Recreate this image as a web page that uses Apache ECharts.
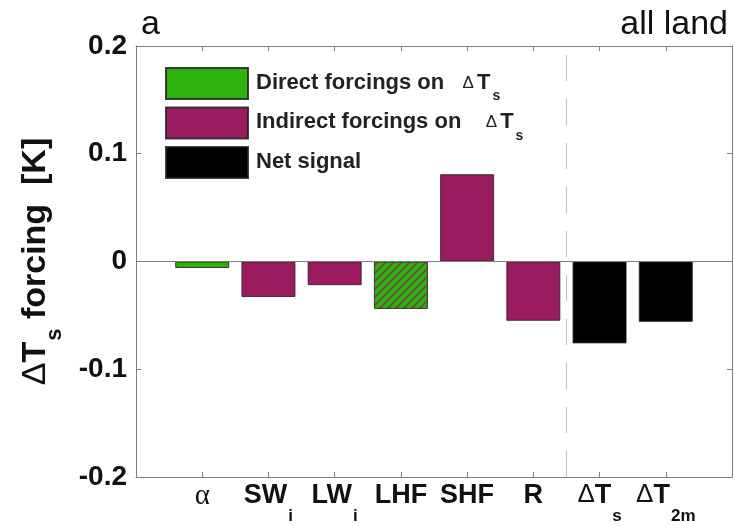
<!DOCTYPE html>
<html>
<head>
<meta charset="utf-8">
<script src="https://cdn.jsdelivr.net/npm/echarts@6/dist/echarts.min.js"></script>
<style>
  html, body { margin: 0; padding: 0; background: #fff; }
  #chart { width: 735px; height: 526px; }
</style>
</head>
<body>
<div id="chart"></div>
<script>
// Forcing terms on surface temperature change, all land points
const labelMain = ['α', 'SW', 'LW', 'LHF', 'SHF', 'R', 'ΔT', 'ΔT'];
const labelSub  = ['',  'i',  'i',  '',    '',    '',  's',  '2m'];
const values    = [-0.006, -0.033, -0.022, -0.044, 0.081, -0.055, -0.076, -0.056];
const groups    = ['direct', 'indirect', 'indirect', 'direct', 'indirect', 'indirect', 'net', 'net'];
const hatched   = [false, false, false, true, false, false, false, false];
const yTickLabels = ['-0.2', '-0.1', '0', '0.1', '0.2'];
const seriesNames = ['Direct forcings on', 'Indirect forcings on', 'Net signal'];
const groupKeys   = ['direct', 'indirect', 'net'];
const groupColors = ['#2db30c', '#9b1b5f', '#000000'];

const FONT = 'Liberation Sans, Arial, sans-serif';
const AXIS_GRAY = '#7f7f7f';

// diagonal hatch tile for the latent-heat bar
function hatchPattern(base, line) {
  const c = document.createElement('canvas');
  c.width = 8; c.height = 8;
  const g = c.getContext('2d');
  g.fillStyle = base; g.fillRect(0, 0, 8, 8);
  g.strokeStyle = line; g.lineWidth = 1.6;
  g.beginPath();
  g.moveTo(-1, 9); g.lineTo(9, -1);
  g.moveTo(-1, 1); g.lineTo(1, -1);
  g.moveTo(7, 9); g.lineTo(9, 7);
  g.stroke();
  return { image: c, repeat: 'repeat' };
}
const hatch = hatchPattern('#2db30c', '#6e4c45');

const series = groupKeys.map((key, gi) => {
  const data = [];
  values.forEach((v, i) => {
    if (groups[i] !== key) return;
    const item = { value: [i + 1, v] };
    if (hatched[i]) item.itemStyle = { color: hatch };
    data.push(item);
  });
  const s = {
    name: seriesNames[gi],
    type: 'bar',
    data: data,
    barWidth: 54,
    barGap: '-100%',
    itemStyle: { color: groupColors[gi], borderColor: 'rgba(40,30,35,0.85)', borderWidth: 1 },
    emphasis: { disabled: true },
    z: 3
  };
  if (gi === 0) {
    s.markLine = {
      silent: true,
      symbol: ['none', 'none'],
      label: { show: false },
      animation: false,
      data: [
        { yAxis: 0, lineStyle: { color: AXIS_GRAY, width: 1, type: 'solid' } },
        { xAxis: 6.5, lineStyle: { color: '#c4c4c4', width: 1.2, type: [26, 18] } }
      ]
    };
  }
  return s;
});

const subRich = {
  m:  { fontFamily: FONT, fontWeight: 'bold', fontSize: 27, lineHeight: 30, verticalAlign: 'top', color: '#111' },
  a:  { fontFamily: 'Liberation Serif, Times New Roman, serif', fontWeight: 'normal', fontSize: 29, lineHeight: 30, verticalAlign: 'top', color: '#111' },
  d:  { fontFamily: FONT, fontWeight: 'normal', fontSize: 26, lineHeight: 30, verticalAlign: 'top', color: '#111' },
  sb: { fontFamily: FONT, fontWeight: 'bold', fontSize: 17, lineHeight: 16, verticalAlign: 'top', padding: [26, 0, 0, 1], color: '#111' }
};

function xLabel(v) {
  const i = Math.round(v) - 1;
  if (i < 0 || i >= labelMain.length) return '';
  const main = labelMain[i];
  let out;
  if (main === 'α') out = '{a|α}';
  else if (main.charAt(0) === 'Δ') out = '{d|Δ}{m|' + main.slice(1) + '}';
  else out = '{m|' + main + '}';
  if (labelSub[i]) out += '{sb|' + labelSub[i] + '}';
  return out;
}

const option = {
  animation: false,
  backgroundColor: '#fff',
  title: [
    { text: 'a', left: 141, top: 9, padding: 0,
      textStyle: { fontFamily: FONT, fontWeight: 'normal', fontSize: 34, lineHeight: 32, color: '#111' } },
    { text: 'all land', right: 7, top: 9, padding: 0,
      textStyle: { fontFamily: FONT, fontWeight: 'normal', fontSize: 34, lineHeight: 32, color: '#111' } }
  ],
  legend: {
    orient: 'vertical',
    left: 165,
    top: 67,
    padding: 0,
    itemGap: 3,
    itemWidth: 82,
    itemHeight: 31,
    icon: 'rect',
    selectedMode: false,
    data: seriesNames,
    formatter: function (name) {
      if (name === 'Net signal') return '{m|' + name + '}';
      const gap = name.indexOf('Indirect') === 0 ? '    ' : '   ';
      return '{m|' + name + gap + '}{d|Δ}{m|T}{s|s}';
    },
    textStyle: {
      rich: {
        m: { fontFamily: FONT, fontWeight: 'bold', fontSize: 22, lineHeight: 24, verticalAlign: 'top', padding: [0, 0, 0, 3], color: '#222' },
        d: { fontFamily: FONT, fontWeight: 'normal', fontSize: 17, lineHeight: 24, verticalAlign: 'top', padding: [3, 0, 0, 0], color: '#222' },
        s: { fontFamily: FONT, fontWeight: 'bold', fontSize: 14, lineHeight: 13, verticalAlign: 'top', padding: [18, 0, 0, 2], color: '#222' }
      }
    }
  },
  grid: { left: 136, right: 2, top: 46, bottom: 49, containLabel: false },
  xAxis: [
    {
      type: 'value', position: 'bottom', min: 0, max: 9, interval: 1,
      axisLine: { show: true, onZero: false, lineStyle: { color: AXIS_GRAY, width: 1 } },
      axisTick: { show: true, inside: true, length: 5, lineStyle: { color: AXIS_GRAY } },
      splitLine: { show: false },
      axisLabel: { show: true, margin: 5, formatter: xLabel, rich: subRich, showMinLabel: true, showMaxLabel: true }
    },
    {
      type: 'value', position: 'top', min: 0, max: 9, interval: 1,
      axisLine: { show: true, onZero: false, lineStyle: { color: AXIS_GRAY, width: 1 } },
      axisTick: { show: true, inside: true, length: 5, lineStyle: { color: AXIS_GRAY } },
      splitLine: { show: false },
      axisLabel: { show: false }
    }
  ],
  yAxis: [
    {
      type: 'value', position: 'left', min: -0.2, max: 0.2, interval: 0.1,
      axisLine: { show: true, onZero: false, lineStyle: { color: AXIS_GRAY, width: 1 } },
      axisTick: { show: true, inside: true, length: 5, lineStyle: { color: AXIS_GRAY } },
      splitLine: { show: false },
      axisLabel: {
        margin: 9,
        fontFamily: FONT, fontWeight: 'bold', fontSize: 28, color: '#111',
        formatter: function (v) { return yTickLabels[Math.round(v * 10) + 2]; }
      },
      name: '{d|Δ}{t|T}{s|s}{t| forcing  [K]}',
      nameLocation: 'middle',
      nameRotate: 90,
      nameGap: 81,
      nameTextStyle: {
        rich: {
          d: { fontFamily: FONT, fontWeight: 'normal', fontSize: 34, lineHeight: 36, verticalAlign: 'top', color: '#111' },
          t: { fontFamily: FONT, fontWeight: 'bold', fontSize: 34, lineHeight: 36, verticalAlign: 'top', color: '#111' },
          s: { fontFamily: FONT, fontWeight: 'bold', fontSize: 22, lineHeight: 20, verticalAlign: 'top', padding: [25, 0, 0, 1], color: '#111' }
        }
      }
    },
    {
      type: 'value', position: 'right', min: -0.2, max: 0.2, interval: 0.1,
      axisLine: { show: true, onZero: false, lineStyle: { color: AXIS_GRAY, width: 1 } },
      axisTick: { show: true, inside: true, length: 5, lineStyle: { color: AXIS_GRAY } },
      splitLine: { show: false },
      axisLabel: { show: false }
    }
  ],
  series: series
};

const chart = echarts.init(document.getElementById('chart'), null, { renderer: 'canvas' });
chart.setOption(option);
</script>
</body>
</html>
